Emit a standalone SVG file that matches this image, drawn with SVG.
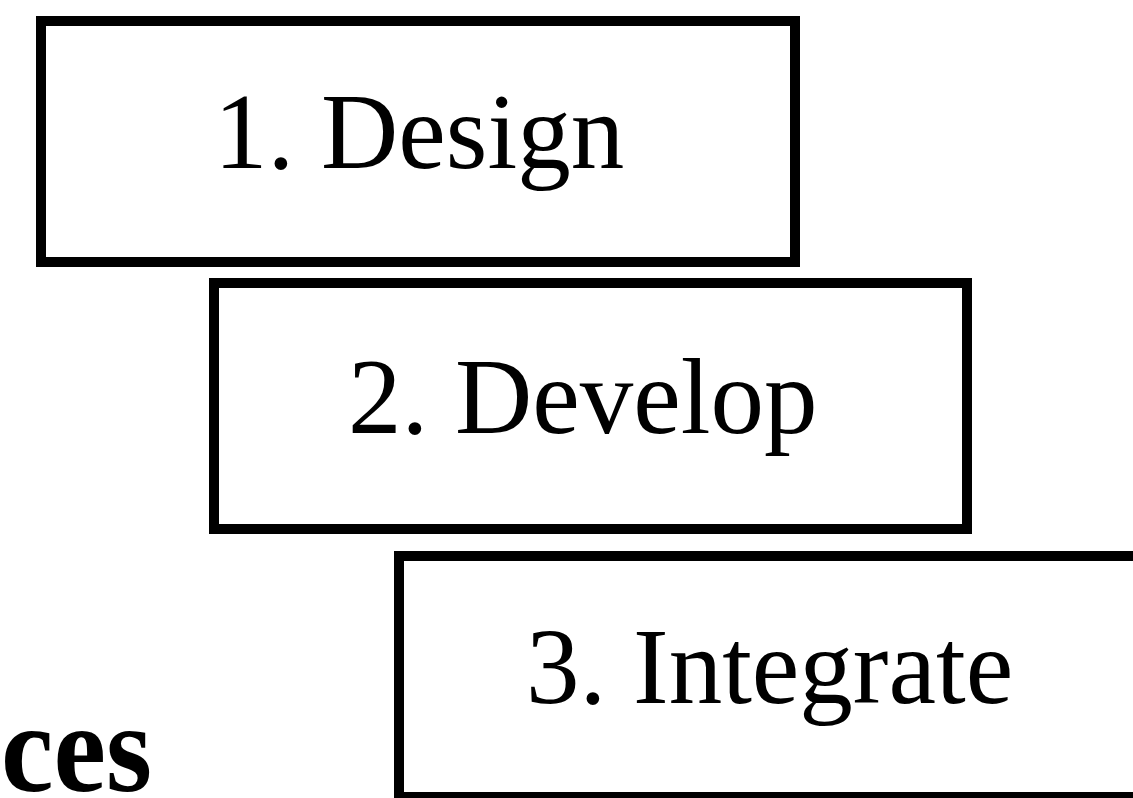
<svg xmlns="http://www.w3.org/2000/svg" width="1133" height="798" viewBox="0 0 1133 798">
<style>
.box{fill:#fff;stroke:#000;stroke-width:10}
.lbl{font-family:"Liberation Serif","Times New Roman",serif;font-size:107px;fill:#000}
.frag{font-family:"Liberation Serif","Times New Roman",serif;font-size:128px;font-weight:bold;fill:#000}
</style>
<rect width="1133" height="798" fill="#fff"/>
<g id="connectors"></g>
<g id="node-design">
<rect class="box" x="41" y="21" width="754" height="241"/>
<text class="lbl" x="214" y="168">1. Design</text>
</g>
<g id="node-develop">
<rect class="box" x="214" y="283" width="753" height="246"/>
<text class="lbl" x="348" y="433">2. Develop</text>
</g>
<g id="node-integrate">
<rect class="box" x="399" y="556" width="800" height="241"/>
<text class="lbl" x="526" y="703">3. Integrate</text>
</g>
<g id="fragment">
<text class="frag" x="1" y="791" textLength="151" lengthAdjust="spacingAndGlyphs">ces</text>
</g>
</svg>
